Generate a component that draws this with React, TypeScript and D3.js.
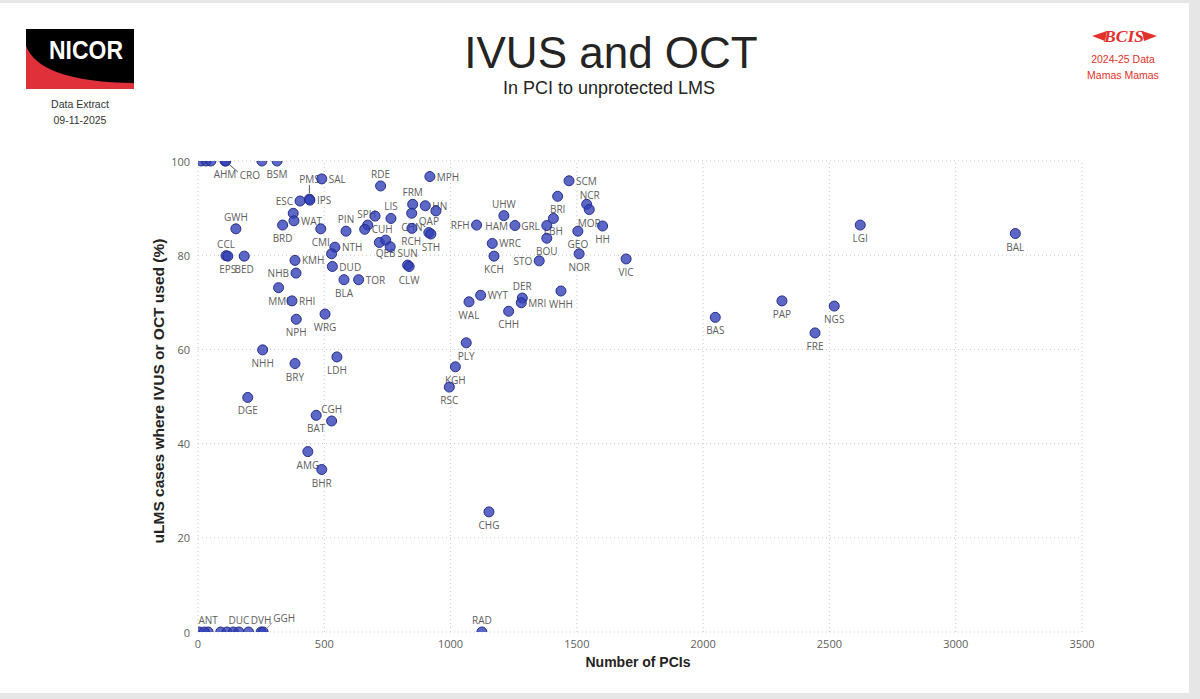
import * as d3 from "d3";

// hospital codes, number of PCIs and % of uLMS cases with IVUS/OCT
const codes = [
  "", "", "", "AHM", "CRO", "", "BSM",
  "SAL", "ESC", "PMS", "IPS", "", "WAT", "BRD", "GWH", "CCL", "EPS", "BED",
  "CMI", "PIN", "NTH", "", "DUD", "KMH", "NHB", "MMI", "RHI", "BLA", "TOR",
  "", "QEB", "RCH", "SUN", "CLW", "", "CUH", "SPH", "LIS", "FRM", "", "HN", "",
  "CHN", "QAP", "STH", "MPH", "RDE", "RFH", "UHW", "HAM", "GRL", "LBH", "BRI",
  "WRC", "KCH", "BOU", "STO", "SCM", "NCR", "MOR", "GEO", "NOR", "HH", "VIC",
  "WHH", "DER", "MRI", "WYT", "WAL", "CHH", "PLY", "KGH", "RSC", "CHG", "RAD",
  "WRG", "NPH", "NHH", "BRY", "LDH", "DGE", "BAT", "CGH", "AMG", "BHR",
  "LGI", "BAL", "BAS", "PAP", "NGS", "FRE",
  "", "ANT", "", "", "", "", "DUC", "", "DVH", "GGH",
];

const pcis = [
  12, 32, 51, 107, 110, 253, 313,
  490, 404, 441, 443, 377, 380, 335, 150, 111, 118, 183,
  486, 586, 542, 529, 532, 384, 388, 319, 372, 578, 636,
  718, 743, 761, 830, 836, 672, 660, 701, 764, 850, 846, 900, 942,
  847, 914, 922, 918, 723, 1103, 1211, 1255, 1381, 1407, 1424,
  1165, 1172, 1381, 1351, 1469, 1539, 1549, 1504, 1509, 1602, 1695,
  1437, 1284, 1280, 1119, 1073, 1230, 1062, 1019, 995, 1152, 1124,
  503, 389, 256, 384, 550, 197, 468, 529, 435, 490,
  2622, 3236, 2048, 2312, 2519, 2443,
  5, 40, 25, 90, 115, 140, 162, 200, 250, 258,
];

const pctImaging = [
  100, 100, 100, 100, 100, 100, 100,
  96.2, 91.5, 91.9, 91.7, 88.9, 87.3, 86.4, 85.6, 79.9, 79.8, 79.8,
  85.6, 85.1, 81.7, 80.3, 77.6, 78.9, 76.2, 73.1, 70.3, 74.8, 74.8,
  82.7, 83.2, 81.8, 77.9, 77.6, 86.4, 85.5, 88.3, 87.8, 90.8, 88.9, 90.5, 89.4,
  85.7, 84.8, 84.5, 96.7, 94.7, 86.4, 88.4, 86.3, 86.3, 87.8, 92.5,
  82.5, 79.8, 83.6, 78.8, 95.8, 90.8, 89.7, 85.1, 80.3, 86.2, 79.2,
  72.4, 70.9, 69.9, 71.5, 70.1, 68.1, 61.4, 56.3, 52.0, 25.5, 0,
  67.5, 66.4, 59.9, 57.0, 58.4, 49.8, 46.0, 44.8, 38.3, 34.5,
  86.4, 84.6, 66.8, 70.3, 69.2, 63.5,
  0, 0, 0, 0, 0, 0, 0, 0, 0, 0,
];

const xTicks = [0, 500, 1000, 1500, 2000, 2500, 3000, 3500];
const yTicks = [0, 20, 40, 60, 80, 100];

// where each data label sits relative to its point (default: below)
const labelSide: Record<string, string> = {
  CRO: "leaderDownRight", PMS: "leaderUp", GGH: "leaderUpRight",
  SAL: "right", ESC: "left", IPS: "right", WAT: "right", GWH: "above",
  CCL: "above", PIN: "above", NTH: "right", DUD: "right", KMH: "right",
  NHB: "left", RHI: "right", TOR: "right", RCH: "upRight", SUN: "above",
  CUH: "right", SPH: "leftOn", LIS: "above", FRM: "above", HN: "right",
  CHN: "center", QAP: "above", MPH: "right", RDE: "above", RFH: "left",
  UHW: "above", HAM: "left", GRL: "left", WRC: "right", STO: "left",
  SCM: "right", NCR: "aboveTight", DER: "above", MRI: "right", WYT: "right",
  RAD: "above", CGH: "above", ANT: "above", DUC: "above", DVH: "above",
};

const labelFont = "'Open Sans', 'DejaVu Sans', sans-serif";
const headFont = "'Liberation Sans', Arial, sans-serif";
const grey = "#605e5c";
const red = "#e3312b";

export default function App() {
  const x = d3.scaleLinear().domain([0, 3500]).range([198, 1082]);
  const y = d3.scaleLinear().domain([0, 100]).range([632, 161]);

  const points = codes.map((code, i) => ({
    code,
    cx: x(pcis[i]),
    cy: y(pctImaging[i]),
  }));

  const label = (p: { code: string; cx: number; cy: number }) => {
    if (!p.code) return null;
    const side = labelSide[p.code] ?? "below";
    const common = { fontSize: 10, fill: grey, fontFamily: labelFont, dominantBaseline: "central" as const };
    if (side === "right")
      return <text {...common} x={p.cx + 7} y={p.cy}>{p.code}</text>;
    if (side === "upRight")
      return <text {...common} x={p.cx + 11} y={p.cy - 6}>{p.code}</text>;
    if (side === "left")
      return <text {...common} x={p.cx - 7} y={p.cy} textAnchor="end">{p.code}</text>;
    if (side === "leftOn")
      return <text {...common} x={p.cx + 1} y={p.cy - 2} textAnchor="end">{p.code}</text>;
    if (side === "above")
      return <text {...common} x={p.cx} y={p.cy - 12} textAnchor="middle">{p.code}</text>;
    if (side === "aboveTight")
      return <text {...common} x={p.cx + 3} y={p.cy - 9} textAnchor="middle">{p.code}</text>;
    if (side === "center")
      return <text {...common} x={p.cx} y={p.cy - 1} textAnchor="middle">{p.code}</text>;
    if (side === "leaderUp")
      return (
        <g>
          <line x1={p.cx} y1={p.cy - 6} x2={p.cx} y2={p.cy - 14} stroke="#555" />
          <text {...common} x={p.cx} y={p.cy - 20} textAnchor="middle">{p.code}</text>
        </g>
      );
    if (side === "leaderDownRight")
      return (
        <g>
          <line x1={p.cx + 3} y1={p.cy + 3} x2={p.cx + 12} y2={p.cy + 11} stroke="#555" />
          <text {...common} x={p.cx + 14} y={p.cy + 14}>{p.code}</text>
        </g>
      );
    if (side === "leaderUpRight")
      return (
        <g>
          <line x1={p.cx + 3} y1={p.cy - 3} x2={p.cx + 9} y2={p.cy - 9} stroke="#999" />
          <text {...common} x={p.cx + 10} y={p.cy - 14}>{p.code}</text>
        </g>
      );
    return <text {...common} x={p.cx} y={p.cy + 13} textAnchor="middle">{p.code}</text>;
  };

  return (
    <svg
      width={1200}
      height={699}
      style={{ position: "absolute", left: 0, top: 0, background: "#ffffff" }}
    >
      <rect x={0} y={0} width={1200} height={699} fill="#e6e6e6" />
      <rect x={0} y={3} width={1189} height={690} fill="#ffffff" />

      {/* NICOR logo */}
      <rect x={26} y={29} width={108} height={60} fill="#000" />
      <path d="M26,46 Q40,82 134,83 L134,89 L26,89 Z" fill="#e0313b" />
      <text x={86} y={50} textAnchor="middle" dominantBaseline="central" fontFamily={headFont} fontWeight="bold" fontSize={26} fill="#fff" textLength={74} lengthAdjust="spacingAndGlyphs">
        NICOR
      </text>
      <text x={80} y={104} textAnchor="middle" dominantBaseline="central" fontFamily={headFont} fontSize={10.5} fill="#333">
        Data Extract
      </text>
      <text x={80} y={120} textAnchor="middle" dominantBaseline="central" fontFamily={headFont} fontSize={10.5} fill="#333">
        09-11-2025
      </text>

      {/* BCIS logo */}
      <path d="M1092,36 L1107,31 L1105,41 Z" fill={red} />
      <path d="M1157,36 L1142,31 L1144,41 Z" fill={red} />
      <text x={1124} y={36} textAnchor="middle" dominantBaseline="central" fontFamily="'Liberation Serif', serif" fontStyle="italic" fontWeight="bold" fontSize={17} fill={red} textLength={40} lengthAdjust="spacingAndGlyphs">
        BCIS
      </text>
      <text x={1123} y={59} textAnchor="middle" dominantBaseline="central" fontFamily={headFont} fontSize={10.5} fill={red}>
        2024-25 Data
      </text>
      <text x={1123} y={75} textAnchor="middle" dominantBaseline="central" fontFamily={headFont} fontSize={10.5} fill={red}>
        Mamas Mamas
      </text>

      {/* titles */}
      <text x={611} y={68} textAnchor="middle" fontFamily={headFont} fontSize={44} fill="#252423">
        IVUS and OCT
      </text>
      <text x={609} y={94} textAnchor="middle" fontFamily={headFont} fontSize={18} fill="#252423">
        In PCI to unprotected LMS
      </text>

      {/* grid */}
      {yTicks.map((t) => (
        <g key={"y" + t}>
          <line x1={x(0)} x2={x(3500)} y1={y(t)} y2={y(t)} stroke="#c8c8c8" strokeDasharray="1,3" />
          <text x={190} y={y(t)} textAnchor="end" dominantBaseline="central" fontFamily={labelFont} fontSize={11} fill={grey}>
            {t}
          </text>
        </g>
      ))}
      {xTicks.map((t) => (
        <g key={"x" + t}>
          <line x1={x(t)} x2={x(t)} y1={y(0)} y2={y(100)} stroke="#c8c8c8" strokeDasharray="1,3" />
          <text x={x(t)} y={643} textAnchor="middle" dominantBaseline="central" fontFamily={labelFont} fontSize={11} fill={grey}>
            {t}
          </text>
        </g>
      ))}

      <text x={638} y={662} textAnchor="middle" dominantBaseline="central" fontFamily={headFont} fontWeight="bold" fontSize={14} fill="#252423">
        Number of PCIs
      </text>
      <text
        transform={`translate(158,391) rotate(-90)`}
        textAnchor="middle"
        dominantBaseline="central"
        fontFamily={headFont}
        fontWeight="bold"
        fontSize={15.5}
        fill="#252423"
      >
        uLMS cases where IVUS or OCT used (%)
      </text>

      <defs>
        <clipPath id="plot">
          <rect x={x(0)} y={y(100)} width={x(3500) - x(0)} height={y(0) - y(100)} />
        </clipPath>
      </defs>

      <g>{points.map((p, i) => <g key={"l" + i}>{label(p)}</g>)}</g>

      <g clipPath="url(#plot)">
        {points.map((p, i) => (
          <circle
            key={"p" + i}
            cx={p.cx}
            cy={p.cy}
            r={5}
            fill="rgba(48,62,182,0.78)"
            stroke="#252f8a"
            strokeWidth={1}
          />
        ))}
      </g>
    </svg>
  );
}
